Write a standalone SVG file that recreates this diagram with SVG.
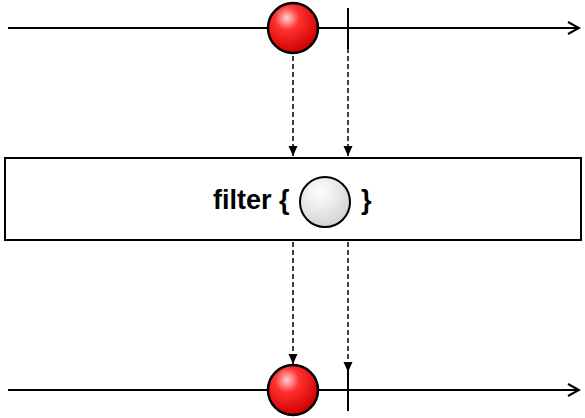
<svg xmlns="http://www.w3.org/2000/svg" width="585" height="418" viewBox="0 0 585 418">
<style>
.line{stroke:#000;stroke-width:2;fill:none}
.dash{stroke:#000;stroke-width:1.5;stroke-dasharray:5,3;fill:none}
.ball{stroke:#000;stroke-width:2.5}
.tick{stroke:#000;stroke-width:2}
.lbl{font-family:"Liberation Sans",Arial,sans-serif;font-weight:bold;font-size:27px;fill:#000}
</style>
<defs>
<radialGradient id="red" cx="0.38" cy="0.3" r="0.7">
<stop offset="0" stop-color="#ffd0d0"/>
<stop offset="0.35" stop-color="#ff3030"/>
<stop offset="1" stop-color="#d00000"/>
</radialGradient>
<radialGradient id="gray" cx="0.4" cy="0.3" r="0.75">
<stop offset="0" stop-color="#ffffff"/>
<stop offset="1" stop-color="#d0d0d0"/>
</radialGradient>
<marker id="open" markerWidth="14" markerHeight="14" refX="12" refY="7" orient="auto" markerUnits="userSpaceOnUse">
<path d="M1,1 L12,7 L1,13" fill="none" stroke="#000" stroke-width="2"/>
</marker>
<marker id="tri" markerWidth="10" markerHeight="12" refX="5" refY="10" orient="0" markerUnits="userSpaceOnUse">
<path d="M0.5,0 L9.5,0 L5,10 Z" fill="#000"/>
</marker>
</defs>
<g id="connectors">
<line class="dash" x1="293" y1="56" x2="293" y2="156" marker-end="url(#tri)"/>
<line class="dash" x1="348" y1="48" x2="348" y2="156" marker-end="url(#tri)"/>
<line class="dash" x1="293" y1="242" x2="293" y2="364" marker-end="url(#tri)"/>
<line class="dash" x1="348" y1="242" x2="348" y2="372" marker-end="url(#tri)"/>
</g>
<g id="top-timeline">
<line class="line" x1="8" y1="28" x2="579" y2="28" marker-end="url(#open)"/>
<line class="tick" x1="348" y1="8" x2="348" y2="49"/>
<circle class="ball" cx="293" cy="28" r="25" fill="url(#red)"/>
</g>
<g id="filter">
<rect x="5" y="158" width="576" height="82" fill="#fff" stroke="#000" stroke-width="2"/>
<text class="lbl" x="213" y="209">filter {</text>
<circle cx="325" cy="202" r="25" fill="url(#gray)" stroke="#000" stroke-width="2"/>
<text class="lbl" x="361" y="209">}</text>
</g>
<g id="bottom-timeline">
<line class="line" x1="8" y1="390" x2="579" y2="390" marker-end="url(#open)"/>
<line class="tick" x1="348" y1="370" x2="348" y2="411"/>
<circle class="ball" cx="293" cy="390" r="25" fill="url(#red)"/>
</g>
</svg>
